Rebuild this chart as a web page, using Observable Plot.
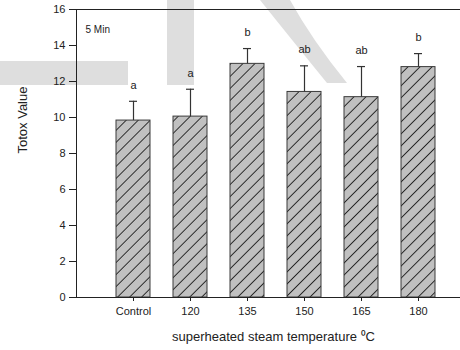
<!DOCTYPE html>
<html>
<head>
<meta charset="utf-8">
<script src="https://cdn.jsdelivr.net/npm/d3@7"></script>
<script src="https://cdn.jsdelivr.net/npm/@observablehq/plot@0.6"></script>
<style>
  body { margin: 0; background: #fff; }
  #wrap { position: relative; width: 460px; height: 350px; overflow: hidden; }
  #wm, #chart { position: absolute; left: 0; top: 0; }
</style>
</head>
<body>
<div id="wrap">
  <!-- light grey watermark shapes behind the chart -->
  <svg id="wm" width="460" height="350">
    <g fill="#dedede">
      <rect x="0" y="61" width="128" height="24"></rect>
      <rect x="167" y="0" width="27" height="85"></rect>
      <path d="M260,0 Q292,40 327,83 L347,83 Q312,40 290,0 Z"></path>
    </g>
  </svg>
  <div id="chart"></div>
</div>
<script>
// Totox value after 5 min of superheated steam treatment
const categories = ["Control", "120", "135", "150", "165", "180"];
const means = [9.83, 10.05, 12.98, 11.42, 11.13, 12.80];
const sds = [1.07, 1.52, 0.85, 1.45, 1.70, 0.75];
const letters = ["a", "a", "b", "ab", "ab", "b"];
const yTicks = [0, 2, 4, 6, 8, 10, 12, 14, 16];
const panelLabel = "5 Min";
const yLabel = "Totox Value";
const xLabel = "superheated steam temperature \u2070C";

const data = categories.map((c, i) => ({
  category: c,
  mean: means[i],
  top: means[i] + sds[i],
  letter: letters[i]
}));

const font = "'Liberation Sans', Arial, sans-serif";

const chart = Plot.plot({
  width: 460,
  height: 350,
  marginLeft: 76,
  marginRight: 0,
  marginTop: 9,
  marginBottom: 53,
  style: { background: "transparent", fontFamily: font, fontSize: "11px", color: "#222" },
  x: { domain: categories, paddingInner: 0.4, paddingOuter: 0.568, align: 0.616 },
  y: { domain: [0, 16] },
  marks: [
    Plot.barY(data, { x: "category", y: "mean", fill: "url(#hatch)", stroke: "#3a3a3a", strokeWidth: 1 }),
    Plot.ruleX(data, { x: "category", y1: "mean", y2: "top", stroke: "#333", strokeWidth: 1.2 }),
    Plot.tickY(data, { x: "category", y: "top", stroke: "#333", strokeWidth: 1.2, insetLeft: 13, insetRight: 13 }),
    Plot.text(data, { x: "category", y: "top", text: "letter", dy: -16, fontSize: 11, fill: "#222" }),
    Plot.ruleY([16], { stroke: "#222" }),
    Plot.ruleY([0], { stroke: "#222" }),
    Plot.frame({ anchor: "left", stroke: "#222" }),
    Plot.axisY({ ticks: yTicks, tickSize: 7, tickPadding: 4, label: null, fontSize: 11 }),
    Plot.axisX({ tickSize: 4, tickPadding: 6, label: null, fontSize: 11 }),
    Plot.text([yLabel], { frameAnchor: "left", dx: -54, rotate: -90, fontSize: 13, fill: "#222" }),
    Plot.text([panelLabel], { frameAnchor: "top-left", dx: 9, dy: 16, fontSize: 10, textAnchor: "start", fill: "#222" }),
    Plot.text([xLabel], { frameAnchor: "bottom", dy: 43, dx: 5, fontSize: 13, fill: "#222" })
  ]
});

// diagonal hatch fill used by the bars
const defs = d3.select(chart).insert("defs", ":first-child");
const pat = defs.append("pattern")
  .attr("id", "hatch")
  .attr("patternUnits", "userSpaceOnUse")
  .attr("width", 8.5)
  .attr("height", 8.5)
  .attr("patternTransform", "rotate(45)");
pat.append("rect").attr("width", 8.5).attr("height", 8.5).attr("fill", "#c0c0c0");
pat.append("line")
  .attr("x1", 4.25).attr("y1", 0).attr("x2", 4.25).attr("y2", 8.5)
  .attr("stroke", "#1e1e1e").attr("stroke-width", 0.9);

document.getElementById("chart").appendChild(chart);
</script>
</body>
</html>
